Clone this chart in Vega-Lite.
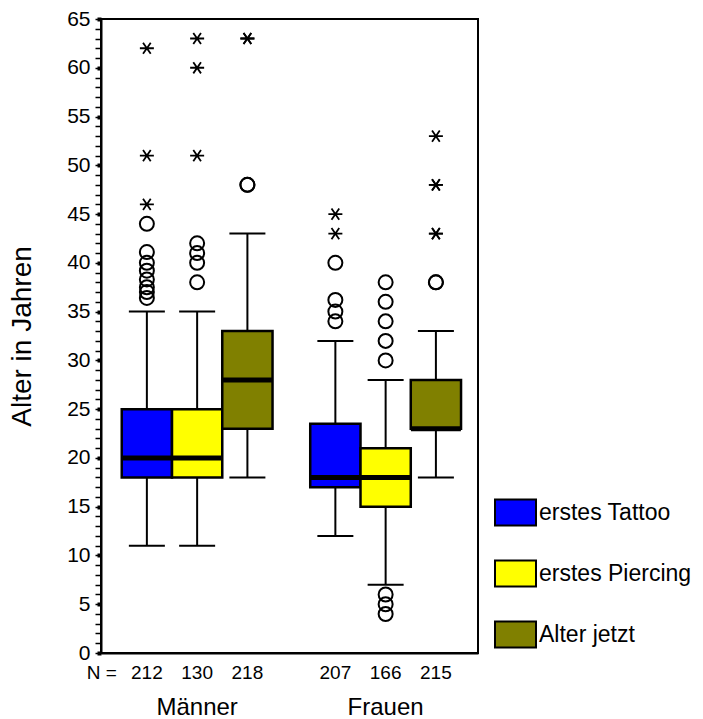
{
  "$schema": "https://vega.github.io/schema/vega-lite/v6.json",
  "width": 377,
  "height": 634,
  "autosize": {"type": "none"},
  "padding": {"left": 101, "top": 19, "right": 225, "bottom": 66},
  "background": "white",
  "config": {
    "font": "Liberation Sans",
    "view": {"stroke": "black", "strokeWidth": 2},
    "axis": {"labelColor": "black", "titleColor": "black", "labelFont": "Liberation Sans", "titleFont": "Liberation Sans"}
  },
  "datasets": {
    "boxes": [
      {"group": "Männer", "var": "erstes Tattoo", "lo": 11, "q1": 18, "med": 20, "q3": 25, "hi": 35, "n": 212},
      {"group": "Männer", "var": "erstes Piercing", "lo": 11, "q1": 18, "med": 20, "q3": 25, "hi": 35, "n": 130},
      {"group": "Männer", "var": "Alter jetzt", "lo": 18, "q1": 23, "med": 28, "q3": 33, "hi": 43, "n": 218},
      {"group": "Frauen", "var": "erstes Tattoo", "lo": 12, "q1": 17, "med": 18, "q3": 23.5, "hi": 32, "n": 207},
      {"group": "Frauen", "var": "erstes Piercing", "lo": 7, "q1": 15, "med": 18, "q3": 21, "hi": 28, "n": 166},
      {"group": "Frauen", "var": "Alter jetzt", "lo": 18, "q1": 23, "med": 23, "q3": 28, "hi": 33, "n": 215}
    ],
    "outliers": [
      {"group": "Männer", "var": "erstes Tattoo", "v": 36.4, "kind": "o"},
      {"group": "Männer", "var": "erstes Tattoo", "v": 37, "kind": "o"},
      {"group": "Männer", "var": "erstes Tattoo", "v": 37.5, "kind": "o"},
      {"group": "Männer", "var": "erstes Tattoo", "v": 38.3, "kind": "o"},
      {"group": "Männer", "var": "erstes Tattoo", "v": 39.2, "kind": "o"},
      {"group": "Männer", "var": "erstes Tattoo", "v": 40, "kind": "o"},
      {"group": "Männer", "var": "erstes Tattoo", "v": 41.1, "kind": "o"},
      {"group": "Männer", "var": "erstes Tattoo", "v": 44, "kind": "o"},
      {"group": "Männer", "var": "erstes Tattoo", "v": 46, "kind": "x"},
      {"group": "Männer", "var": "erstes Tattoo", "v": 51, "kind": "x"},
      {"group": "Männer", "var": "erstes Tattoo", "v": 62, "kind": "x"},
      {"group": "Männer", "var": "erstes Piercing", "v": 38, "kind": "o"},
      {"group": "Männer", "var": "erstes Piercing", "v": 40, "kind": "o"},
      {"group": "Männer", "var": "erstes Piercing", "v": 41, "kind": "o"},
      {"group": "Männer", "var": "erstes Piercing", "v": 42, "kind": "o"},
      {"group": "Männer", "var": "erstes Piercing", "v": 51, "kind": "x"},
      {"group": "Männer", "var": "erstes Piercing", "v": 60, "kind": "x"},
      {"group": "Männer", "var": "erstes Piercing", "v": 63, "kind": "x"},
      {"group": "Männer", "var": "Alter jetzt", "v": 48, "kind": "o"},
      {"group": "Männer", "var": "Alter jetzt", "v": 48, "kind": "o"},
      {"group": "Männer", "var": "Alter jetzt", "v": 63, "kind": "x"},
      {"group": "Männer", "var": "Alter jetzt", "v": 63, "kind": "x"},
      {"group": "Frauen", "var": "erstes Tattoo", "v": 34, "kind": "o"},
      {"group": "Frauen", "var": "erstes Tattoo", "v": 35, "kind": "o"},
      {"group": "Frauen", "var": "erstes Tattoo", "v": 36.2, "kind": "o"},
      {"group": "Frauen", "var": "erstes Tattoo", "v": 40, "kind": "o"},
      {"group": "Frauen", "var": "erstes Tattoo", "v": 43, "kind": "x"},
      {"group": "Frauen", "var": "erstes Tattoo", "v": 45, "kind": "x"},
      {"group": "Frauen", "var": "erstes Piercing", "v": 4, "kind": "o"},
      {"group": "Frauen", "var": "erstes Piercing", "v": 5, "kind": "o"},
      {"group": "Frauen", "var": "erstes Piercing", "v": 6, "kind": "o"},
      {"group": "Frauen", "var": "erstes Piercing", "v": 30, "kind": "o"},
      {"group": "Frauen", "var": "erstes Piercing", "v": 32, "kind": "o"},
      {"group": "Frauen", "var": "erstes Piercing", "v": 34, "kind": "o"},
      {"group": "Frauen", "var": "erstes Piercing", "v": 36, "kind": "o"},
      {"group": "Frauen", "var": "erstes Piercing", "v": 38, "kind": "o"},
      {"group": "Frauen", "var": "Alter jetzt", "v": 38, "kind": "o"},
      {"group": "Frauen", "var": "Alter jetzt", "v": 38, "kind": "o"},
      {"group": "Frauen", "var": "Alter jetzt", "v": 43, "kind": "x"},
      {"group": "Frauen", "var": "Alter jetzt", "v": 43, "kind": "x"},
      {"group": "Frauen", "var": "Alter jetzt", "v": 48, "kind": "x"},
      {"group": "Frauen", "var": "Alter jetzt", "v": 48, "kind": "x"},
      {"group": "Frauen", "var": "Alter jetzt", "v": 53, "kind": "x"}
    ],
    "nlabel": [
      {"group": "Männer", "var": "erstes Tattoo", "label": "N ="}
    ]
  },
  "encoding": {
    "x": {
      "field": "group", "type": "nominal",
      "scale": {"domain": ["Männer", "Frauen"], "paddingInner": 0.2, "paddingOuter": 0.1, "align": 0.55},
      "axis": {"title": null, "labelAngle": 0, "ticks": false, "tickSize": 0, "labelPadding": 42, "labelFontSize": 24, "labelBaseline": "top", "domain": true, "domainColor": "black", "domainWidth": 2}
    },
    "xOffset": {
      "field": "var", "type": "nominal",
      "scale": {"domain": ["erstes Tattoo", "erstes Piercing", "Alter jetzt"], "paddingInner": 0, "paddingOuter": 0}
    }
  },
  "resolve": {"axis": {"y": "independent"}},
  "layer": [
    {
      "data": {"name": "boxes"},
      "mark": {"type": "rule", "color": "black", "strokeWidth": 2, "opacity": 1},
      "encoding": {
        "y": {
          "field": "lo", "type": "quantitative",
          "scale": {"domain": [0, 65], "nice": false, "zero": false},
          "axis": {
            "orient": "left", "values": [0, 5, 10, 15, 20, 25, 30, 35, 40, 45, 50, 55, 60, 65],
            "tickSize": 4, "tickWidth": 4, "tickColor": "black", "grid": false,
            "labelFontSize": 21, "labelPadding": 7, "domain": true, "domainColor": "black", "domainWidth": 2,
            "title": "Alter in Jahren", "titleFontSize": 28, "titleFontWeight": "normal", "titlePadding": 30
          }
        },
        "y2": {"field": "hi"}
      }
    },
    {
      "data": {"name": "boxes"},
      "mark": {"type": "tick", "color": "black", "thickness": 2, "size": 36, "opacity": 1},
      "encoding": {
        "y": {"field": "lo", "type": "quantitative", "scale": {"domain": [0, 65], "nice": false, "zero": false}, "axis": null}
      }
    },
    {
      "data": {"name": "boxes"},
      "mark": {"type": "tick", "color": "black", "thickness": 2, "size": 36, "opacity": 1},
      "encoding": {
        "y": {"field": "hi", "type": "quantitative", "scale": {"domain": [0, 65], "nice": false, "zero": false}, "axis": null}
      }
    },
    {
      "data": {"name": "boxes"},
      "mark": {"type": "bar", "stroke": "black", "strokeWidth": 2.5, "opacity": 1},
      "encoding": {
        "y": {
          "field": "q1", "type": "quantitative",
          "scale": {"domain": [0, 65], "nice": false, "zero": false},
          "axis": {"orient": "left", "tickCount": 65, "tickSize": 6, "tickWidth": 1.5, "tickColor": "black", "labels": false, "domain": false, "grid": false, "title": null}
        },
        "y2": {"field": "q3"},
        "color": {
          "field": "var", "type": "nominal",
          "scale": {"domain": ["erstes Tattoo", "erstes Piercing", "Alter jetzt"], "range": ["#0000ff", "#ffff00", "#808000"]},
          "legend": {
            "title": null, "orient": "none", "legendX": 393, "legendY": 472,
            "symbolType": "M-1,-0.63H1V0.63H-1Z", "symbolSize": 1681,
            "symbolStrokeColor": "black", "symbolStrokeWidth": 2, "symbolOpacity": 1,
            "labelFontSize": 23, "labelFont": "Liberation Sans", "labelColor": "black",
            "labelOffset": 2, "rowPadding": 22, "padding": 0, "labelLimit": 200
          }
        }
      }
    },
    {
      "data": {"name": "boxes"},
      "mark": {"type": "tick", "color": "black", "thickness": 5, "size": 50, "opacity": 1},
      "encoding": {
        "y": {"field": "med", "type": "quantitative", "scale": {"domain": [0, 65], "nice": false, "zero": false}, "axis": null}
      }
    },
    {
      "data": {"name": "outliers"},
      "transform": [{"filter": "datum.kind === 'o'"}],
      "mark": {"type": "point", "shape": "circle", "filled": false, "stroke": "black", "strokeWidth": 2, "size": 196, "opacity": 1},
      "encoding": {
        "y": {"field": "v", "type": "quantitative", "scale": {"domain": [0, 65], "nice": false, "zero": false}, "axis": null}
      }
    },
    {
      "data": {"name": "outliers"},
      "transform": [{"filter": "datum.kind === 'x'"}],
      "mark": {"type": "point", "shape": "M-1,0H1M-0.55,-0.8L0.55,0.8M-0.55,0.8L0.55,-0.8", "filled": false, "stroke": "black", "strokeWidth": 1.8, "size": 196, "opacity": 1},
      "encoding": {
        "y": {"field": "v", "type": "quantitative", "scale": {"domain": [0, 65], "nice": false, "zero": false}, "axis": null}
      }
    },
    {
      "data": {"name": "boxes"},
      "mark": {"type": "text", "fontSize": 19, "baseline": "middle", "align": "center", "color": "black"},
      "encoding": {
        "y": {"datum": -2, "type": "quantitative", "scale": {"domain": [0, 65], "nice": false, "zero": false}, "axis": null},
        "text": {"field": "n", "type": "nominal"}
      }
    },
    {
      "data": {"name": "nlabel"},
      "mark": {"type": "text", "fontSize": 19, "baseline": "middle", "align": "center", "color": "black", "dx": -45},
      "encoding": {
        "y": {"datum": -2, "type": "quantitative", "scale": {"domain": [0, 65], "nice": false, "zero": false}, "axis": null},
        "text": {"field": "label", "type": "nominal"}
      }
    }
  ]
}
